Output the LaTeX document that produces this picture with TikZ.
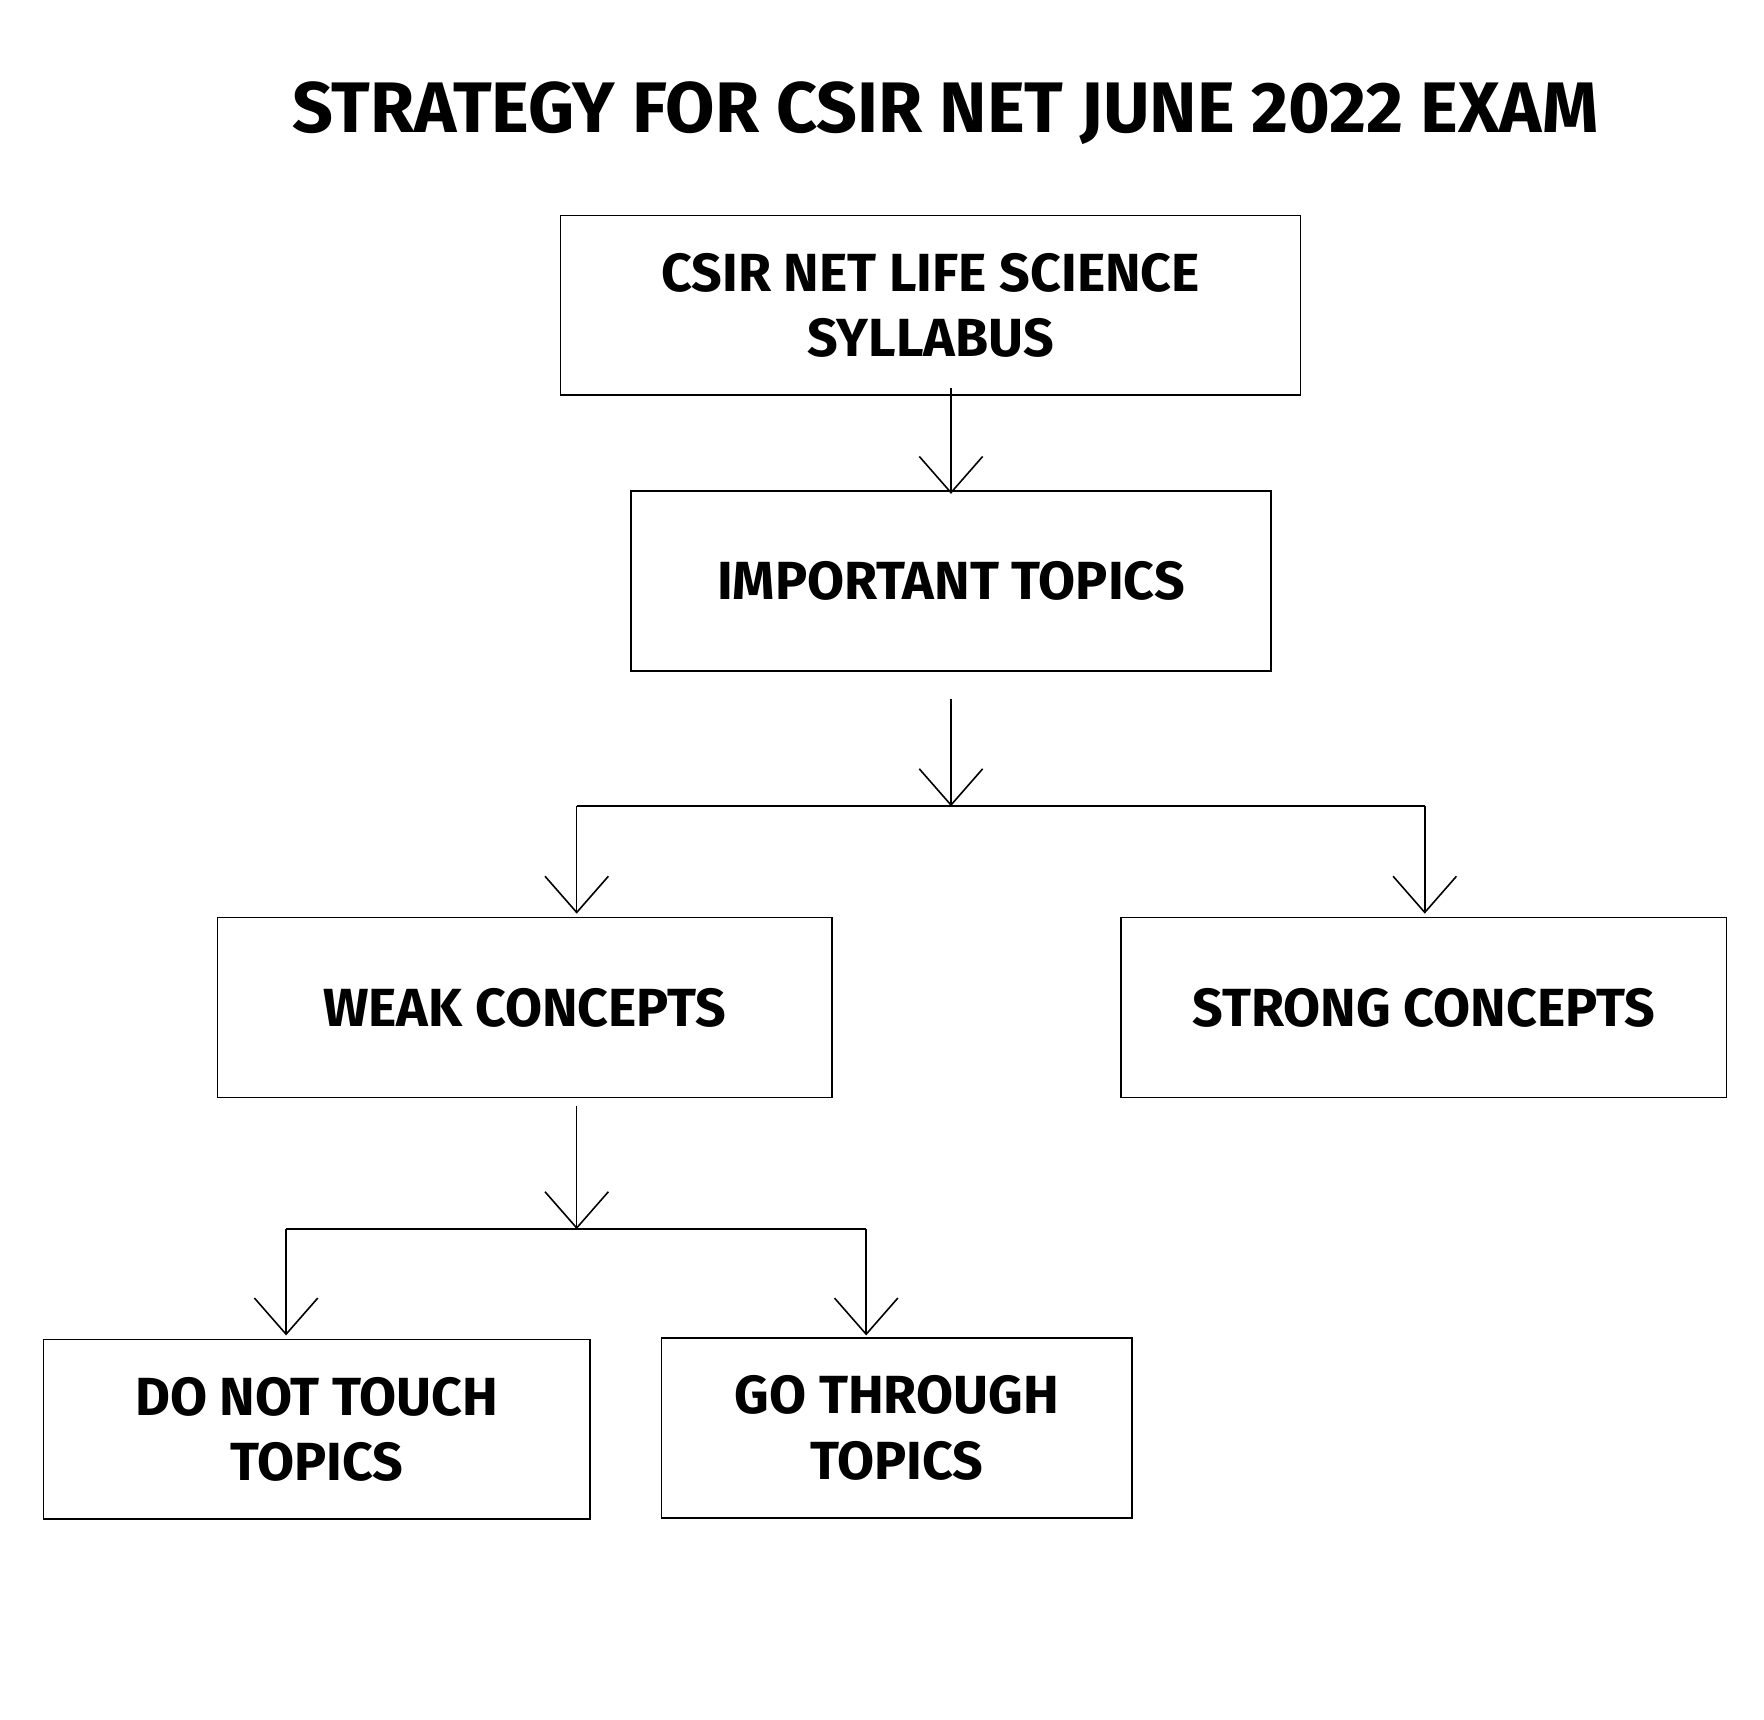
\documentclass[tikz,border=0pt]{standalone}
\usepackage{fontspec}
\setmainfont{Fira Sans}
\usetikzlibrary{arrows.meta}
\tikzset{
    plan box/.style={
        draw,thin,inner sep=0pt,
        font=\fontsize{13.5}{16.5}\selectfont\bfseries,align=center
    },
    flow/.style={thin,-{Straight Barb[length=.32cm,width=.56cm]}}
}
\begin{document}
\begin{tikzpicture}[x=.01cm,y=-.01cm]
        \useasboundingbox (0,0) rectangle (1560,1521);
        \node[font=\fontsize{18}{20}\selectfont\bfseries] (title) at (836,100) {STRATEGY FOR CSIR NET JUNE 2022 EXAM};
        \node[plan box,minimum width=6.54cm,minimum height=1.59cm] (syl) at (823,270) {CSIR NET LIFE SCIENCE\\SYLLABUS};
        \node[plan box,minimum width=5.66cm,minimum height=1.59cm] (imp) at (841,514) {IMPORTANT TOPICS};
        \node[plan box,minimum width=5.43cm,minimum height=1.59cm] (weak) at (464,891) {WEAK CONCEPTS};
        \node[plan box,minimum width=5.35cm,minimum height=1.59cm] (strong) at (1259,891) {STRONG CONCEPTS};
        \node[plan box,minimum width=4.83cm,minimum height=1.59cm] (dont) at (280,1264) {DO NOT TOUCH\\TOPICS};
        \node[plan box,minimum width=4.16cm,minimum height=1.59cm] (go) at (793,1263) {GO THROUGH\\TOPICS};
        % branching points
        \coordinate (split) at (841,713);
        \coordinate (splitL) at (510,713);
        \coordinate (splitR) at (1260,713);
        \coordinate (fork) at (510,1087);
        \coordinate (forkL) at (253,1087);
        \coordinate (forkR) at (766,1087);
        \draw[flow] (841,343) -- ([yshift=-.03cm]imp.north);
        \draw[flow] (841,618) -- (split);
        \draw (splitL) -- (splitR);
        \draw[flow] (splitL) -- (510,808);
        \draw[flow] (splitR) -- (1260,808);
        \draw[flow] (510,978) -- (fork);
        \draw (forkL) -- (forkR);
        \draw[flow] (forkL) -- (253,1181);
        \draw[flow] (forkR) -- (766,1181);
\end{tikzpicture}
\end{document}
